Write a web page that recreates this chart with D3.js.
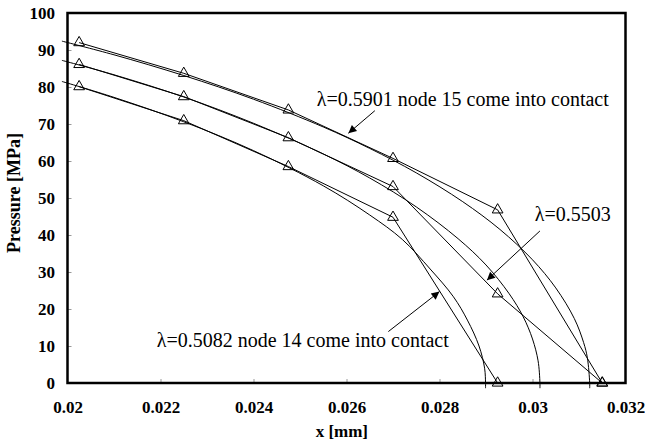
<!DOCTYPE html>
<html>
<head>
<meta charset="utf-8">
<script src="https://cdn.jsdelivr.net/npm/d3@7"></script>
<style>
  html, body { margin: 0; padding: 0; background: #fff; }
  svg { display: block; }
</style>
</head>
<body>
<div id="chart"></div>
<script>
// Axis ticks
const xTicks = [0.02, 0.022, 0.024, 0.026, 0.028, 0.03, 0.032];
const xTickLabels = ["0.02", "0.022", "0.024", "0.026", "0.028", "0.03", "0.032"];
const yTicks = [0, 10, 20, 30, 40, 50, 60, 70, 80, 90, 100];

// FEM node positions and contact pressures (triangles joined by straight segments)
const nodeX = [0.02025, 0.0225, 0.02475, 0.027, 0.02925, 0.0315];
const femA = [92.0, 83.7, 73.8, 60.7, 46.8, 0];   // λ=0.5901
const femB = [86.1, 77.4, 66.3, 53.1, 24.1, 0];   // λ=0.5503
const femC = [80.1, 70.9, 58.5, 44.8, 0];         // λ=0.5082

// Smooth pressure distributions (thin curves ending vertically at the contact edge)
const curveAX = [0.01988, 0.0210, 0.0225, 0.0240, 0.0255, 0.0265, 0.0275, 0.0285, 0.0293, 0.0300, 0.0305, 0.0309, 0.0311, 0.03118, 0.03123, 0.03123];
const curveAP = [92.4, 88.7, 83.1, 76.7, 69.2, 63.4, 56.8, 49.0, 41.5, 33.3, 25.7, 17.4, 10.9, 6.8, 0, -1.4];
const curveBX = [0.01988, 0.0210, 0.0225, 0.0240, 0.0255, 0.0265, 0.0275, 0.0284, 0.0290, 0.0295, 0.0298, 0.0300, 0.03012, 0.03016, 0.03016];
const curveBP = [87.2, 83.3, 77.3, 70.2, 61.9, 55.4, 47.6, 39.0, 31.9, 24.1, 17.9, 11.9, 6.0, 0, -1.4];
const curveCX = [0.01988, 0.0210, 0.0225, 0.0240, 0.0255, 0.0265, 0.0272, 0.0278, 0.0283, 0.0286, 0.02885, 0.02897, 0.02899, 0.02899];
const curveCP = [81.5, 77.2, 70.6, 62.8, 53.3, 45.4, 38.8, 30.8, 23.3, 17.0, 10.0, 4.0, 0, -1.4];

// Annotations: text position, arrow start and arrow tip, in data units
const labelText = ["λ=0.5901 node 15 come into contact", "λ=0.5503", "λ=0.5082 node 14 come into contact"];
const labelAt = [[0.02536, 74.9], [0.03005, 43.8], [0.02192, 9.7]];
const arrowFrom = [[0.02661, 73.6], [0.03016, 41.1], [0.02690, 13.9]];
const arrowTo = [[0.02604, 67.5], [0.02902, 27.8], [0.02800, 24.7]];

const FONT = "'Liberation Serif', 'Times New Roman', Times, serif";
const W = 645, H = 443;
const margin = { top: 13, right: 19.5, bottom: 60, left: 67.5 };
const iw = W - margin.left - margin.right;
const ih = H - margin.top - margin.bottom;

const svg = d3.select("#chart").append("svg").attr("width", W).attr("height", H)
  .attr("font-family", FONT);
const g = svg.append("g").attr("transform", `translate(${margin.left},${margin.top})`);

const x = d3.scaleLinear().domain([0.02, 0.032]).range([0, iw]);
const y = d3.scaleLinear().domain([0, 100]).range([ih, 0]);

// Axes with short inward ticks
const xAxis = g.append("g").attr("transform", `translate(0,${ih})`)
  .call(d3.axisBottom(x).tickValues(xTicks).tickFormat((d, i) => xTickLabels[i]).tickSizeInner(-4).tickSizeOuter(0).tickPadding(18));
const yAxis = g.append("g")
  .call(d3.axisLeft(y).tickValues(yTicks).tickSizeInner(-4).tickSizeOuter(0).tickPadding(12.5));
[xAxis, yAxis].forEach(a => {
  a.attr("font-family", FONT).attr("font-size", 17);
  a.select(".domain").remove();
  a.selectAll(".tick line").attr("stroke", "#999").attr("stroke-width", 1);
  a.selectAll(".tick text").attr("font-family", FONT).attr("font-weight", "bold")
    .attr("font-size", 17).attr("fill", "#000");
});
xAxis.selectAll(".tick line").filter(d => d === 0.02 || d === 0.032).remove();
yAxis.selectAll(".tick line").filter(d => d === 0 || d === 100).remove();

// Smooth curves
const line = d3.line().x(d => x(d[0])).y(d => y(d[1])).curve(d3.curveCatmullRom.alpha(0.5));
[[curveAX, curveAP], [curveBX, curveBP], [curveCX, curveCP]].forEach(([xs, ps]) => {
  g.append("path").datum(xs.map((v, i) => [v, ps[i]]))
    .attr("d", line).attr("fill", "none").attr("stroke", "#000").attr("stroke-width", 1);
});

// FEM polylines and triangle markers
const poly = d3.line().x(d => x(d[0])).y(d => y(d[1]));
const tri = d3.symbol(d3.symbolTriangle, 50);
[femA, femB, femC].forEach(vals => {
  const pts = vals.map((v, i) => [nodeX[i], v]);
  g.append("path").datum(pts).attr("d", poly).attr("fill", "none").attr("stroke", "#000").attr("stroke-width", 1);
  g.selectAll(null).data(pts).join("path")
    .attr("transform", d => `translate(${x(d[0])},${y(d[1])})`)
    .attr("d", tri).attr("fill", "none").attr("stroke", "#000").attr("stroke-width", 1);
});

// Plot frame
g.append("rect").attr("x", 0).attr("y", 0).attr("width", iw).attr("height", ih)
  .attr("fill", "none").attr("stroke", "#000").attr("stroke-width", 2.5);

// Arrow annotations
svg.append("defs").append("marker").attr("id", "head")
  .attr("viewBox", "0 0 10 10").attr("refX", 10).attr("refY", 5)
  .attr("markerWidth", 10).attr("markerHeight", 8).attr("markerUnits", "userSpaceOnUse")
  .attr("orient", "auto")
  .append("path").attr("d", "M0,0 L10,5 L0,10 Z").attr("fill", "#000");

labelText.forEach((t, i) => {
  g.append("text").attr("x", x(labelAt[i][0])).attr("y", y(labelAt[i][1]))
    .attr("font-family", FONT).attr("font-size", 20).attr("fill", "#000").text(t);
  g.append("line")
    .attr("x1", x(arrowFrom[i][0])).attr("y1", y(arrowFrom[i][1]))
    .attr("x2", x(arrowTo[i][0])).attr("y2", y(arrowTo[i][1]))
    .attr("stroke", "#000").attr("stroke-width", 1).attr("marker-end", "url(#head)");
});

// Axis titles
svg.append("text").attr("x", margin.left + x(0.0259)).attr("y", 437)
  .attr("text-anchor", "middle").attr("font-family", FONT).attr("font-weight", "bold")
  .attr("font-size", 17).text("x [mm]");
svg.append("text").attr("transform", `translate(20,193) rotate(-90)`)
  .attr("text-anchor", "middle").attr("font-family", FONT).attr("font-weight", "bold")
  .attr("font-size", 18).text("Pressure [MPa]");
</script>
</body>
</html>
